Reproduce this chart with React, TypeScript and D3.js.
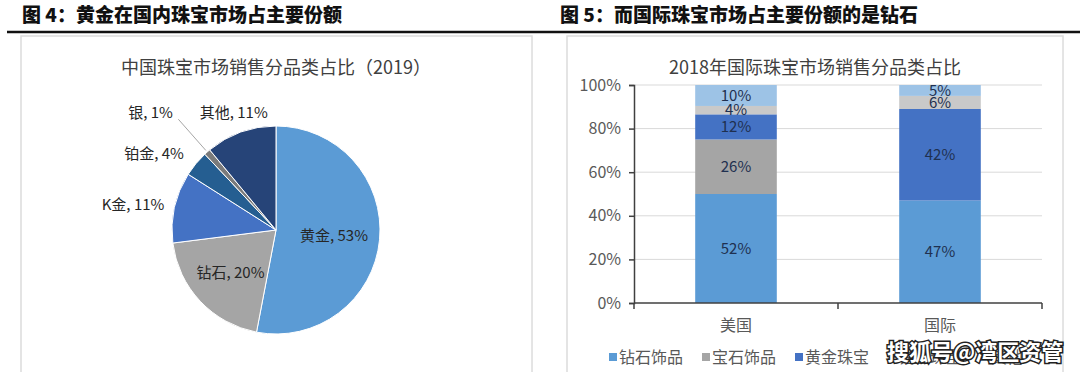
import { useEffect, useRef } from "react";
import * as d3 from "d3";

// figure headers
const header4 = "图 4：黄金在国内珠宝市场占主要份额";
const header5 = "图 5：而国际珠宝市场占主要份额的是钻石";

// pie: China 2019
const pieTitle = "中国珠宝市场销售分品类占比（2019）";
const pieNames = ["黄金", "钻石", "K金", "铂金", "银", "其他"];
const pieValues = [53, 20, 11, 4, 1, 11];
const pieColors = ["#5b9bd5", "#a5a5a5", "#4472c4", "#255e91", "#7b7b7b", "#264478"];

// stacked bar: 2018 intl
const barTitle = "2018年国际珠宝市场销售分品类占比";
const barCats = ["美国", "国际"];
const barKeys = ["钻石饰品", "宝石饰品", "黄金珠宝", "铂金珠宝", "其他"];
const usValues = [52, 26, 12, 4, 10];
const intlValues = [47, 0, 42, 6, 5];
const barColors = ["#5b9bd5", "#a5a5a5", "#4472c4", "#c9c9c9", "#9dc3e6"];
const yTicks = [0, 0.2, 0.4, 0.6, 0.8, 1];

const FONT = "'Noto Sans CJK SC', 'Noto Sans', sans-serif";

export default function App() {
  const ref = useRef<SVGSVGElement | null>(null);

  useEffect(() => {
    const svg = d3.select(ref.current);
    svg.selectAll("*").remove();
    svg.style("font-family", FONT);

    // headers
    svg.append("text").attr("x", 22).attr("y", 22).text(header4)
      .attr("font-size", 19).attr("font-weight", 900).attr("fill", "#111");
    svg.append("text").attr("x", 560).attr("y", 22).text(header5)
      .attr("font-size", 19).attr("font-weight", 900).attr("fill", "#111");
    svg.append("line").attr("x1", 7).attr("x2", 1080).attr("y1", 32).attr("y2", 32)
      .attr("stroke", "#111").attr("stroke-width", 2.5);

    // panel frames
    [[21, 532], [567, 1063]].forEach(([a, b]) => {
      svg.append("rect").attr("x", a).attr("y", 36).attr("width", b - a).attr("height", 345)
        .attr("fill", "#fff").attr("stroke", "#dcdcdc").attr("stroke-width", 1.5);
    });

    // ---- pie ----
    const cx = 276, cy = 230, r = 104;
    svg.append("text").attr("x", cx).attr("y", 74).attr("text-anchor", "middle")
      .attr("font-size", 18).attr("fill", "#404040").text(pieTitle);

    const pie = d3.pie<number>().sort(null).value(d => d);
    const arcs = pie(pieValues);
    const arc = d3.arc<d3.PieArcDatum<number>>().innerRadius(0).outerRadius(r);
    const pg = svg.append("g").attr("transform", `translate(${cx},${cy})`);
    pg.selectAll("path").data(arcs).join("path")
      .attr("d", arc)
      .attr("fill", (d, i) => pieColors[i])
      .attr("stroke", "#fff").attr("stroke-width", 1);

    // label radius factor and anchor per slice
    const labelR = [0.56, 0.6, 1.1, 1.15, 1.5, 1.2];
    const labelAnchor = ["middle", "middle", "end", "end", "end", "middle"];
    arcs.forEach((a, i) => {
      const mid = (a.startAngle + a.endAngle) / 2;
      const rr = r * labelR[i];
      const x = Math.sin(mid) * rr, y = -Math.cos(mid) * rr;
      pg.append("text").attr("x", x).attr("y", y).attr("dy", "0.35em")
        .attr("text-anchor", labelAnchor[i]).attr("font-size", 15).attr("fill", "#262626")
        .text(`${pieNames[i]}, ${pieValues[i]}%`);
      if (labelR[i] > 1.3) {
        pg.append("line")
          .attr("x1", Math.sin(mid) * r * 1.02).attr("y1", -Math.cos(mid) * r * 1.02)
          .attr("x2", Math.sin(mid) * r * 1.42).attr("y2", -Math.cos(mid) * r * 1.42)
          .attr("stroke", "#a6a6a6").attr("stroke-width", 1);
      }
    });

    // ---- stacked bars ----
    svg.append("text").attr("x", 815).attr("y", 74).attr("text-anchor", "middle")
      .attr("font-size", 18).attr("fill", "#404040").text(barTitle);

    const x = d3.scaleBand<string>().domain(barCats).range([634, 1042])
      .paddingInner(0.6).paddingOuter(0.3);
    const y = d3.scaleLinear().domain([0, 1]).range([303, 85]);

    const rows = barCats.map((c, i) => {
      const vals = i === 0 ? usValues : intlValues;
      const o: Record<string, any> = { cat: c };
      barKeys.forEach((k, j) => (o[k] = vals[j]));
      return o;
    });
    const series = d3.stack<any>().keys(barKeys).offset(d3.stackOffsetExpand)(rows);

    // grid
    svg.append("g").selectAll("line").data(yTicks.slice(1)).join("line")
      .attr("x1", 634).attr("x2", 1042)
      .attr("y1", d => y(d)).attr("y2", d => y(d))
      .attr("stroke", "#d9d9d9").attr("stroke-width", 1);

    const bg = svg.append("g");
    series.forEach((s, si) => {
      s.forEach((d: any) => {
        const h = y(d[0]) - y(d[1]);
        if (h <= 0) return;
        bg.append("rect")
          .attr("x", x(d.data.cat)!).attr("width", x.bandwidth())
          .attr("y", y(d[1])).attr("height", h)
          .attr("fill", barColors[si]);
      });
    });
    series.forEach((s, si) => {
      s.forEach((d: any) => {
        const v = d.data[barKeys[si]];
        if (!v) return;
        bg.append("text")
          .attr("x", x(d.data.cat)! + x.bandwidth() / 2)
          .attr("y", y((d[0] + d[1]) / 2)).attr("dy", "0.35em")
          .attr("text-anchor", "middle").attr("font-size", 15).attr("fill", "#1f3050")
          .text(`${v}%`);
      });
    });

    // y axis
    const ya = svg.append("g").attr("transform", "translate(634,0)")
      .call(d3.axisLeft(y).tickValues(yTicks).tickFormat(d => `${Math.round(+d * 100)}%`).tickSize(5).tickPadding(8));
    ya.select(".domain").attr("stroke", "#404040").attr("stroke-width", 1.5);
    ya.selectAll(".tick line").attr("stroke", "#404040").attr("stroke-width", 1.5);
    ya.selectAll("text").attr("font-size", 16).attr("fill", "#595959").attr("font-family", FONT);

    // x axis
    const xa = svg.append("g").attr("transform", "translate(0,303)");
    xa.append("line").attr("x1", 634).attr("x2", 1042).attr("stroke", "#404040").attr("stroke-width", 1.5);
    const step = x.step();
    const bounds = [634, ...barCats.map(c => x(c)! + x.bandwidth() / 2 + step / 2)];
    xa.selectAll("line.t").data(bounds).join("line").attr("class", "t")
      .attr("x1", d => d).attr("x2", d => d).attr("y1", 0).attr("y2", 6)
      .attr("stroke", "#404040").attr("stroke-width", 1.5);
    xa.selectAll("text").data(barCats).join("text")
      .attr("x", d => x(d)! + x.bandwidth() / 2).attr("y", 28)
      .attr("text-anchor", "middle").attr("font-size", 16).attr("fill", "#595959").text(d => d);

    // legend
    const lg = svg.append("g").attr("transform", "translate(609,357)");
    barKeys.forEach((k, i) => {
      const g = lg.append("g").attr("transform", `translate(${i * 93},0)`);
      g.append("rect").attr("x", 0).attr("y", -4).attr("width", 8).attr("height", 8).attr("fill", barColors[i]);
      g.append("text").attr("x", 10).attr("y", 0).attr("dy", "0.35em")
        .attr("font-size", 16).attr("fill", "#595959").text(k);
    });

    // watermark
    svg.append("text").attr("x", 887).attr("y", 360).text("搜狐号@湾区资管")
      .attr("font-size", 22).attr("font-weight", 700).attr("fill", "#fff")
      .attr("stroke", "#222").attr("stroke-width", 3).attr("paint-order", "stroke");
  }, []);

  return (
    <svg ref={ref} width={1080} height={372}
      style={{ position: "absolute", left: 0, top: 0, background: "#fff" }} />
  );
}
